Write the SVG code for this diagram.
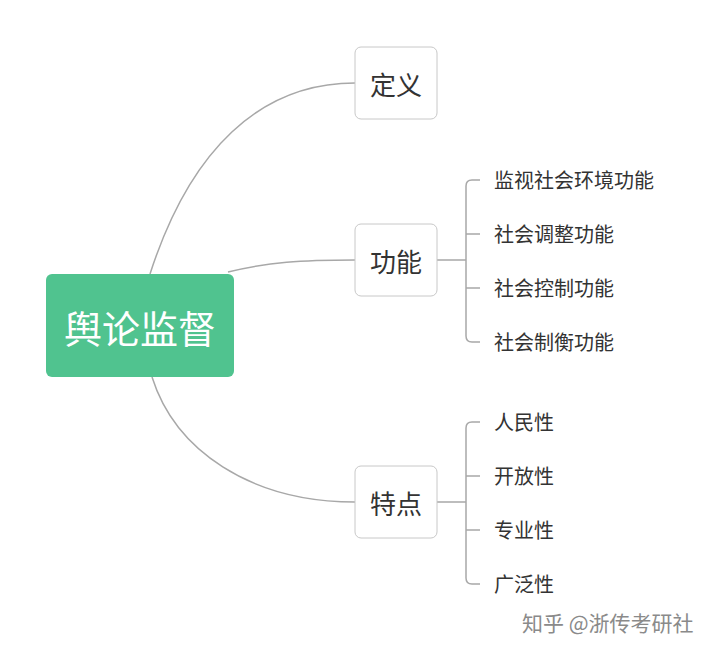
<svg xmlns="http://www.w3.org/2000/svg" width="715" height="653" viewBox="0 0 715 653">
<style>
text{font-family:"Noto Sans CJK SC",sans-serif;fill:#333}
.box{fill:#fff;stroke:#c8c8c8;stroke-width:1}
.ln{fill:none;stroke:#a8a8a8;stroke-width:1.5}
.mid{font-size:26px;text-anchor:middle;dominant-baseline:central}
.leaf{font-size:20px;dominant-baseline:central}
</style>
<rect width="715" height="653" fill="#fff"/>
<g id="connectors">
<path class="ln" d="M150,274 C190,150 260,83 355,83"/>
<path class="ln" d="M228,272 C270,262 300,260 355,260"/>
<path class="ln" d="M152,377 C175,450 250,502 355,502"/>
<path class="ln" d="M437,260 H466 M480,180 H472 Q466,180 466,186 V336 Q466,342 472,342 H480 M466,234 H480 M466,288 H480"/>
<path class="ln" d="M437,502 H466 M480,422 H472 Q466,422 466,428 V578 Q466,584 472,584 H480 M466,476 H480 M466,530 H480"/>
</g>
<g id="root"><rect x="46" y="274" width="188" height="103" rx="6" fill="#50c38f"/><text x="140" y="326" class="mid" style="font-size:38px;fill:#fff">舆论监督</text></g>
<g id="n1"><rect class="box" x="355" y="47" width="82" height="72" rx="6"/><text x="396" y="83" class="mid">定义</text></g>
<g id="n2"><rect class="box" x="355" y="224" width="82" height="72" rx="6"/><text x="396" y="260" class="mid">功能</text></g>
<g id="n3"><rect class="box" x="355" y="466" width="82" height="72" rx="6"/><text x="396" y="502" class="mid">特点</text></g>
<g id="leaves">
<text x="494" y="179" class="leaf">监视社会环境功能</text>
<text x="494" y="233" class="leaf">社会调整功能</text>
<text x="494" y="287" class="leaf">社会控制功能</text>
<text x="494" y="341" class="leaf">社会制衡功能</text>
<text x="494" y="421" class="leaf">人民性</text>
<text x="494" y="475" class="leaf">开放性</text>
<text x="494" y="529" class="leaf">专业性</text>
<text x="494" y="583" class="leaf">广泛性</text>
</g>
<text x="522" y="622" style="font-size:21px;fill:#8a8a8a;dominant-baseline:central">知乎 @浙传考研社</text>
</svg>
